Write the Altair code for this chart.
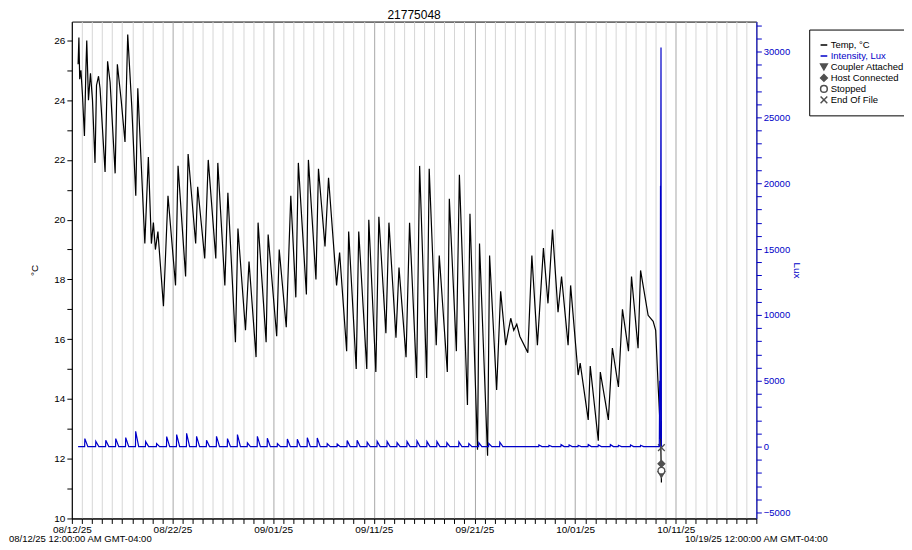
import altair as alt
import pandas as pd

START = pd.Timestamp("2025-08-12")
END = pd.Timestamp("2025-10-19")
FONT = "Liberation Sans"
BLUE = "#0000c8"
GRAY = "#505050"

# Temp, °C -- daily highs/lows (days since 08/12/25 00:00)
temp_day = [0.62, 0.70, 0.78, 0.90, 1.05, 1.25, 1.40, 1.48, 1.65, 1.85,
            2.05, 2.30, 2.45, 2.65, 2.80, 3.30, 3.55, 3.80, 4.30, 4.52,
            4.90, 5.28, 5.55, 5.95, 6.35, 6.55, 7.25, 7.60, 7.90, 8.10,
            8.30, 8.55, 9.10, 9.55, 10.30, 10.55, 11.30, 11.55, 12.30, 12.50,
            13.20, 13.55, 14.30, 14.50, 15.20, 15.50, 16.25, 16.50, 17.25, 17.60,
            18.30, 18.50, 19.30, 19.50, 20.35, 20.60, 21.30, 21.75, 22.25, 22.50,
            23.30, 23.50, 24.25, 24.50, 25.15, 25.50, 26.30, 26.60, 27.30, 27.50,
            28.25, 28.50, 29.30, 29.50, 30.20, 30.50, 31.20, 31.50, 32.20, 32.50,
            33.20, 33.55, 34.25, 34.55, 35.25, 35.50, 36.20, 36.50, 37.30, 37.50,
            38.20, 38.50, 39.30, 39.55, 40.30, 40.50, 41.30, 41.50, 42.20, 42.60,
            43.10, 43.60, 43.90, 44.20, 44.50, 45.30, 45.70, 46.25, 46.85, 47.30,
            47.75, 48.30, 48.65, 49.30, 49.55, 50.30, 50.50, 51.30, 51.50, 52.30,
            52.50, 53.30, 53.70, 54.30, 54.70, 55.30, 55.60, 56.25, 56.50, 57.25,
            57.75, 58.00, 58.25, 58.50, 58.57]
temp_c = [25.2, 26.1, 24.7, 25.0, 24.2, 22.8, 25.1, 26.0, 24.0, 24.9,
          24.0, 21.9, 24.5, 24.8, 24.4, 21.6, 25.3, 24.6, 21.55, 25.2,
          24.0, 22.6, 26.2, 23.8, 20.8, 24.4, 19.2, 22.1, 19.2, 19.9,
          19.0, 19.6, 17.1, 20.8, 17.8, 21.8, 18.1, 22.2, 19.2, 21.1,
          18.7, 22.0, 18.7, 21.9, 17.8, 20.9, 15.9, 19.7, 16.3, 18.6,
          15.4, 19.9, 15.9, 19.5, 16.1, 19.0, 16.4, 20.8, 17.4, 21.9,
          17.5, 22.0, 18.0, 21.7, 19.1, 21.4, 17.8, 18.9, 15.6, 19.6,
          15.0, 19.6, 15.0, 20.0, 14.9, 20.1, 16.2, 19.9, 16.05, 18.4,
          15.4, 19.9, 14.7, 21.8, 14.7, 21.7, 15.8, 18.8, 14.9, 20.7,
          15.6, 21.5, 13.8, 20.2, 12.3, 19.2, 12.1, 18.8, 14.3, 17.6,
          15.8, 16.7, 16.3, 16.5, 16.1, 15.55, 18.8, 15.8, 19.05, 17.2,
          19.67, 16.9, 18.1, 15.8, 17.8, 14.8, 15.2, 13.3, 15.1, 12.6,
          14.9, 13.3, 15.7, 14.4, 17.0, 15.6, 18.1, 15.7, 18.3, 16.8,
          16.6, 16.3, 14.4, 12.7, 11.2]

# Intensity, Lux -- daily light peaks
lux_peak_day = [1.29, 2.38, 3.37, 4.36, 5.35, 6.34, 7.33, 8.42, 9.42, 10.41,
                11.40, 12.39, 13.38, 14.37, 15.46, 16.45, 17.44, 18.43, 19.42, 20.42,
                21.41, 22.40, 23.39, 24.38, 25.37, 26.36, 27.35, 28.34, 29.34, 30.33,
                31.32, 32.31, 33.30, 34.29, 35.28, 36.27, 37.26, 38.45, 39.44, 40.43,
                41.42, 42.52, 46.40, 47.40, 48.60, 49.40, 50.30, 51.30, 52.30, 53.50,
                54.30, 55.50, 56.50]
lux_peak = [606, 404, 480, 606, 682, 1160, 380, 230, 760, 910,
            1010, 780, 480, 780, 606, 910, 280, 780, 630, 230,
            580, 555, 680, 656, 230, 200, 455, 480, 330, 400,
            380, 300, 380, 430, 380, 380, 300, 350, 230, 300,
            250, 330, 120, 100, 150, 120, 100, 150, 120, 150,
            100, 120, 100]
# final spike when the logger was picked up
end_day = [58.36, 58.40, 58.44, 58.48, 58.50, 58.53, 58.57]
end_lux = [0, 5000, 600, 19800, 17500, 30300, 0]

event_names = ["Coupler Attached", "Host Connected", "Stopped", "End Of File"]
event_day = [58.57, 58.57, 58.57, 58.57]
event_temp = [11.47, 11.83, 11.60, 12.37]

legend_names = ["Temp, °C", "Intensity, Lux"] + event_names
temp_ticks = list(range(10, 27))
lux_ticks = list(range(-5000, 32001, 1000))


def to_time(days):
    return START + pd.to_timedelta(pd.Series(days, dtype=float), unit="D")


temp_df = pd.DataFrame({"t": to_time(temp_day), "temp": temp_c})

lux_rows = [(temp_day[0], 0)]
for d, v in zip(lux_peak_day, lux_peak):
    lux_rows += [(d - 0.02, 0), (d, v), (d + 0.3, 0)]
lux_rows += list(zip(end_day, end_lux))
lux_df = pd.DataFrame(lux_rows, columns=["day", "lux"])
lux_df["t"] = to_time(lux_df["day"].tolist())

event_df = pd.DataFrame({"t": to_time(event_day), "temp": event_temp, "name": event_names})
left_stamp = pd.DataFrame({"t": [START], "label": ["08/12/25 12:00:00 AM GMT-04:00"]})
right_stamp = pd.DataFrame({"t": [END], "label": ["10/19/25 12:00:00 AM GMT-04:00"]})

tenth_day = "round((datum.value - datetime(2025,7,12)) / 864e5) % 10 == 0"
x_enc = alt.X("t:T", title=None,
              scale=alt.Scale(domain=[alt.DateTime(year=2025, month=8, date=12),
                                      alt.DateTime(year=2025, month=10, date=19)], nice=False),
              axis=alt.Axis(format="%m/%d/%y", tickCount=alt.TimeIntervalStep(interval="day", step=1),
                            labelExpr=tenth_day + " ? datum.label : ''",
                            grid=True,
                            gridColor={"condition": {"test": tenth_day, "value": "#a8a8a8"},
                                       "value": "#d6d6d6"},
                            tickSize=5, tickColor="black", domainColor="black", labelColor="black",
                            labelOverlap=False, labelFlush=False, labelPadding=1))

temp_scale = alt.Scale(domain=[10, 26.63], nice=False, zero=False)
temp_axis = alt.Axis(title="°C", values=temp_ticks, labelExpr="datum.value % 2 == 0 ? datum.label : ''",
                     grid=False, tickSize=5, tickColor="black", domainColor="black", labelColor="black",
                     titleColor="black", labelOverlap=False, titlePadding=14, labelPadding=2)

temp_line = alt.Chart(temp_df).mark_line(color="black", strokeWidth=1.2).encode(
    x=x_enc, y=alt.Y("temp:Q", scale=temp_scale, axis=temp_axis))

leg = alt.Legend(title=None, orient="none", legendX=739, legendY=8, fillColor="white",
                 strokeColor="black", padding=10, symbolSize=45, symbolStrokeWidth=1.5,
                 labelFontSize=9.5, labelFont=FONT, rowPadding=0, labelOffset=2, clipHeight=11,
                 labelColor=alt.ExprRef("datum.label == 'Intensity, Lux' ? '%s' : 'black'" % BLUE))

events = alt.Chart(event_df).mark_point(size=45, strokeWidth=1.3, opacity=1).encode(
    x=x_enc,
    y=alt.Y("temp:Q", scale=temp_scale, axis=temp_axis),
    shape=alt.Shape("name:N", legend=leg, scale=alt.Scale(
        domain=legend_names,
        range=["stroke", "stroke", "triangle-down", "diamond", "circle", "M-1,-1L1,1M-1,1L1,-1"])),
    stroke=alt.Stroke("name:N", legend=leg, scale=alt.Scale(
        domain=legend_names, range=["black", BLUE, GRAY, GRAY, GRAY, GRAY])),
    fill=alt.Fill("name:N", legend=leg, scale=alt.Scale(
        domain=legend_names, range=["black", BLUE, GRAY, GRAY, "white", GRAY])),
)

stamp_l = alt.Chart(left_stamp).mark_text(fontSize=9.5, font=FONT, color="black", baseline="middle",
                                          align="left", dx=-63).encode(
    x=x_enc, y=alt.value(519), text="label:N")
stamp_r = alt.Chart(right_stamp).mark_text(fontSize=9.5, font=FONT, color="black", baseline="middle").encode(
    x=x_enc, y=alt.value(519), text="label:N")

lux_line = alt.Chart(lux_df).mark_line(color=BLUE, strokeWidth=1.2).encode(
    x=x_enc,
    y=alt.Y("lux:Q", scale=alt.Scale(domain=[-5455, 32273], nice=False, zero=False),
            axis=alt.Axis(title="Lux", orient="right", values=lux_ticks, format="d",
                          labelExpr="datum.value % 5000 == 0 ? datum.label : ''",
                          grid=False, tickSize=5, tickColor=BLUE, domainColor=BLUE,
                          labelColor=BLUE, titleColor=BLUE, titleAngle=90, labelOverlap=False,
                          titlePadding=2, labelPadding=2, labelFontSize=9.5)))

chart = alt.layer(alt.layer(temp_line, events, stamp_l, stamp_r), lux_line).resolve_scale(
    y="independent"
).properties(
    width=686, height=498,
    title=alt.Title("21775048", fontSize=12, fontWeight="normal", font=FONT, color="black",
                    offset=2, dy=4),
    padding={"left": 64, "top": 13, "right": 148, "bottom": 27},
    autosize=alt.AutoSizeParams(type="none"),
).configure_view(
    stroke="black", strokeWidth=1
).configure_axis(
    labelFont=FONT, titleFont=FONT, labelFontSize=10, titleFontSize=10, titleFontWeight="normal"
)

chart.save("out.html", embed_options={"renderer": "svg", "actions": False})
